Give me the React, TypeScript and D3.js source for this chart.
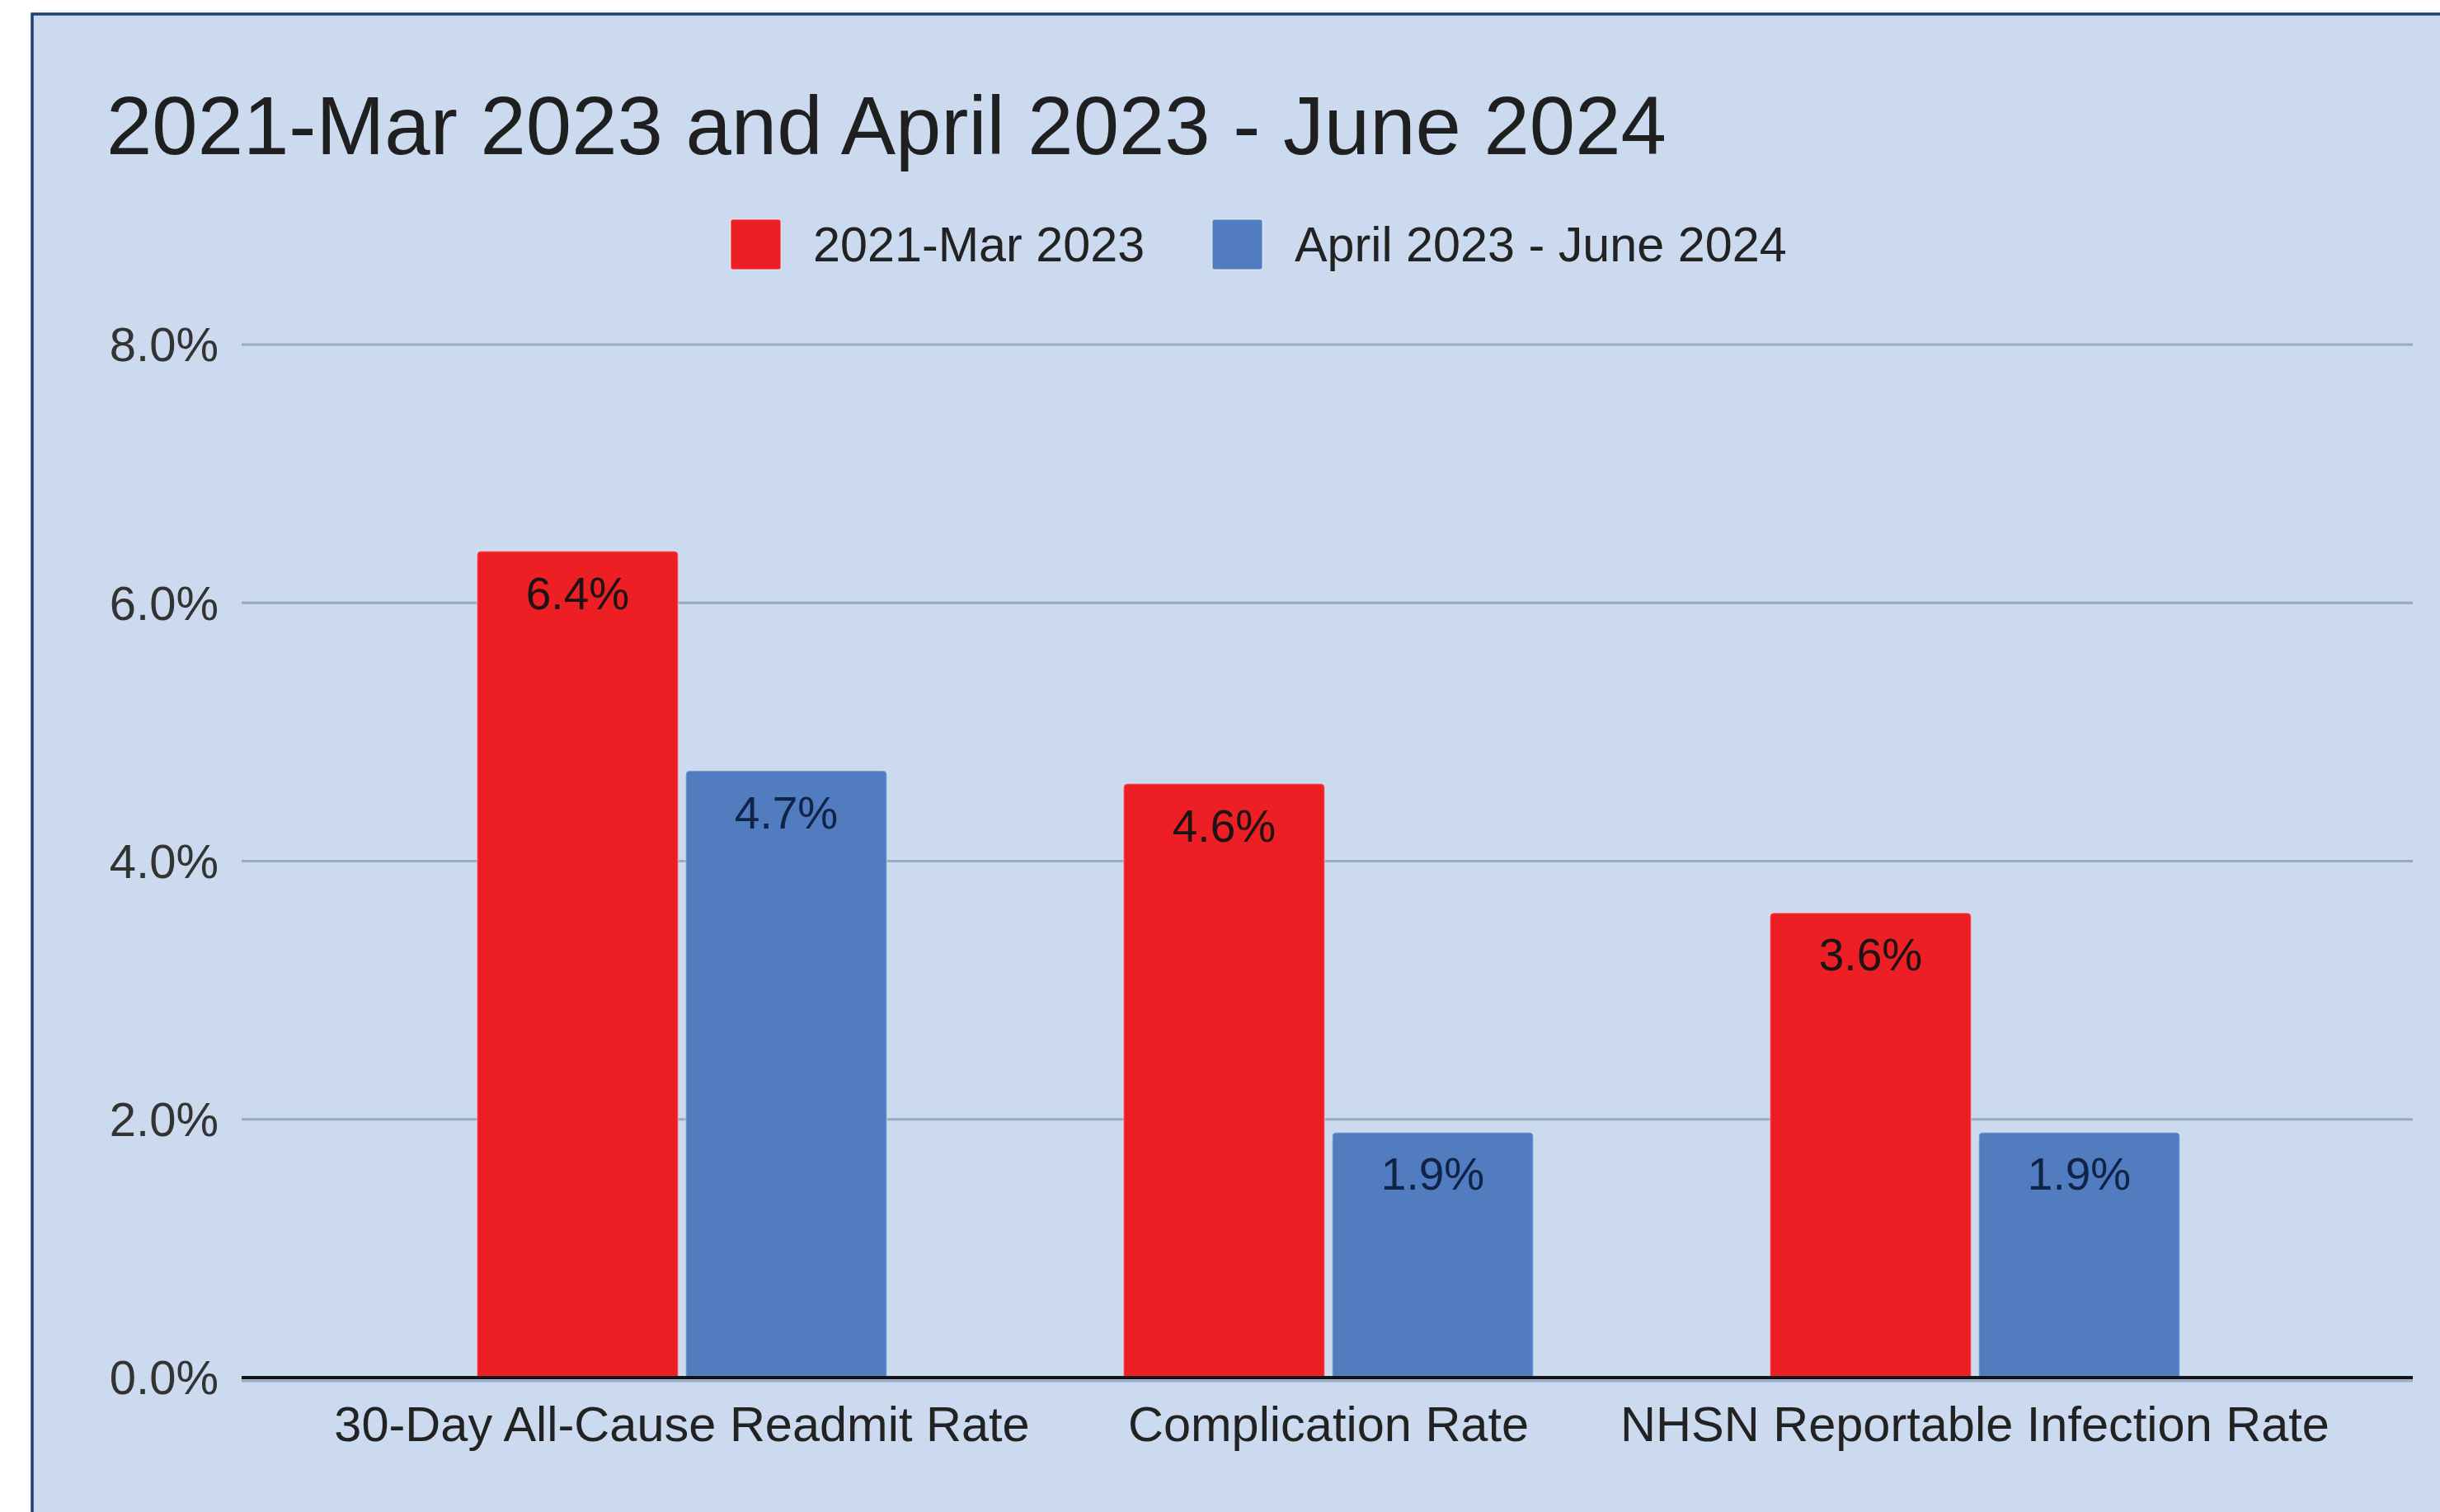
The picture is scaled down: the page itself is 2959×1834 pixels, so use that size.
import React, { useEffect } from "react";
import * as d3 from "d3";

const categories = ["30-Day All-Cause Readmit Rate", "Complication Rate", "NHSN Reportable Infection Rate"];
const seriesNames = ["2021-Mar 2023", "April 2023 - June 2024"];
const series2021 = [6.4, 4.6, 3.6];
const series2023 = [4.7, 1.9, 1.9];
const yTicks = [0, 2, 4, 6, 8];
const seriesColors = ["#ee1f24", "#527cc0"];
const labelColors = ["#1c1414", "#0f2447"];
const titleText = "2021-Mar 2023 and April 2023 - June 2024";

const W = 2959;
const H = 1834;
const FONT = "'Liberation Sans', Arial, sans-serif";

export default function App() {
  useEffect(() => {
    document.body.style.margin = "0";
  }, []);

  const y = d3.scaleLinear().domain([0, 8]).range([1671, 418]);
  const x0 = d3.scaleBand<string>().domain(categories).range([435, 2787]).paddingInner(0.366).paddingOuter(0.183);
  const x1 = d3.scaleBand<string>().domain(seriesNames).range([0, x0.bandwidth()]).paddingInner(0.036);
  const seriesValues = [series2021, series2023];

  const gridX0 = 293;
  const gridX1 = 2926;

  const topRounded = (x: number, yTop: number, w: number, yBot: number, r: number) => {
    const p = d3.path();
    p.moveTo(x, yBot);
    p.lineTo(x, yTop + r);
    p.quadraticCurveTo(x, yTop, x + r, yTop);
    p.lineTo(x + w - r, yTop);
    p.quadraticCurveTo(x + w, yTop, x + w, yTop + r);
    p.lineTo(x + w, yBot);
    p.closePath();
    return p.toString();
  };

  const legendItems = [
    { sx: 886, tx: 986 },
    { sx: 1470, tx: 1570 },
  ];

  return (
    <div style={{ position: "absolute", left: 0, top: 0 }}>
      <svg width={W} height={H} style={{ display: "block" }} fontFamily={FONT}>
        <rect x={0} y={0} width={W} height={H} fill="#ffffff" />
        <rect x={39} y={17} width={W + 10} height={H + 10} fill="#cbdaef" stroke="#1c4270" strokeWidth={3.5} />

        <text x={129} y={187} fontSize={99.5} fill="#1f1f1f">{titleText}</text>

        {seriesNames.map((s, i) => (
          <g key={s}>
            <rect x={legendItems[i].sx} y={266} width={61} height={61} rx={3} fill={seriesColors[i]} stroke="rgba(255,255,255,0.35)" strokeWidth={2} />
            <text x={legendItems[i].tx} y={317} fontSize={59.3} fill="#222">{s}</text>
          </g>
        ))}

        {yTicks.map((t) => (
          <g key={t}>
            {t !== 0 && <line x1={gridX0} x2={gridX1} y1={y(t)} y2={y(t)} stroke="#9aa9c5" strokeWidth={3} />}
            <text x={265} y={y(t)} dy="0.35em" textAnchor="end" fontSize={58} fill="#333">
              {t.toFixed(1) + "%"}
            </text>
          </g>
        ))}

        {categories.map((c, ci) => (
          <g key={c} transform={`translate(${x0(c)},0)`}>
            {seriesNames.map((s, si) => {
              const v = seriesValues[si][ci];
              const bx = x1(s) as number;
              const bw = x1.bandwidth();
              return (
                <g key={s}>
                  <path d={topRounded(bx, y(v), bw, y(0), 5)} fill={seriesColors[si]} stroke="rgba(255,255,255,0.3)" strokeWidth={2} />
                  <text x={bx + bw / 2} y={y(v) + 70} textAnchor="middle" fontSize={55} fill={labelColors[si]}>
                    {v.toFixed(1) + "%"}
                  </text>
                </g>
              );
            })}
            <text x={x0.bandwidth() / 2} y={1748} textAnchor="middle" fontSize={59.5} fill="#222">{c}</text>
          </g>
        ))}

        <line x1={gridX0} x2={gridX1} y1={y(0) + 4} y2={y(0) + 4} stroke="#9aa9c5" strokeWidth={3} />
        <line x1={gridX0} x2={gridX1} y1={y(0)} y2={y(0)} stroke="#141414" strokeWidth={4} />
      </svg>
    </div>
  );
}
